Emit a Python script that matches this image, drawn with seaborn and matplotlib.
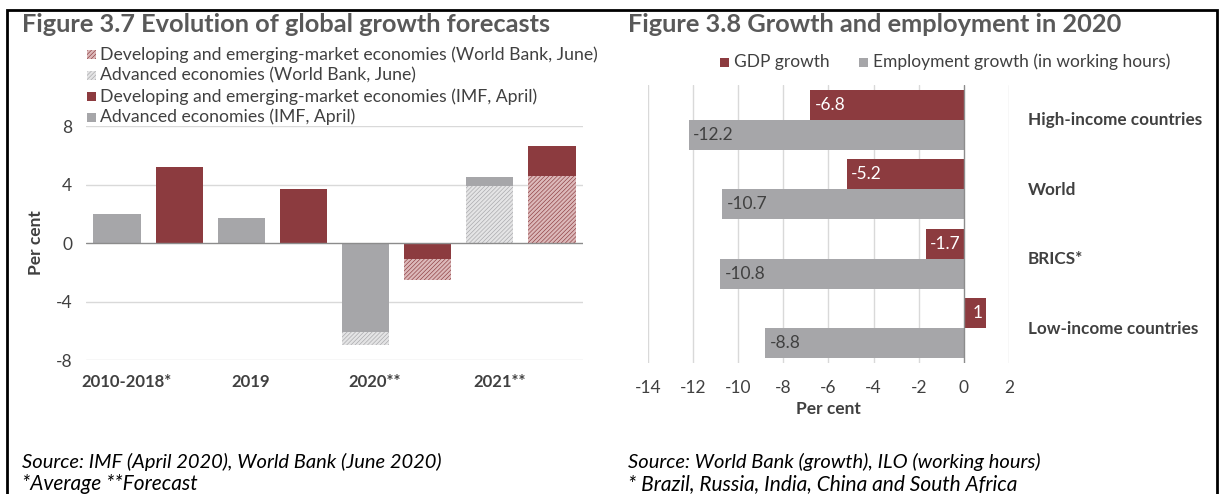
import numpy as np
import pandas as pd
import matplotlib
matplotlib.use("Agg")
import matplotlib.pyplot as plt
from matplotlib.patches import Rectangle
import seaborn as sns

sns.set_theme(style="white")
plt.rcParams['font.family'] = ['Lato', 'DejaVu Sans']
plt.rcParams['hatch.linewidth'] = 0.45

RED = '#8c3b3f'
GREY = '#a6a6a9'
RED_LT = '#dcb9ba'
GREY_LT = '#e4e4e5'
TXT = '#404040'
TITLE = '#595959'

# Figure 3.7 data
periods = ['2010-2018*', '2019', '2020**', '2021**']
adv_imf = [2.0, 1.7, -6.1, 4.5]
dev_imf = [5.2, 3.7, -1.1, 6.6]
adv_wb = [np.nan, np.nan, -7.0, 3.9]
dev_wb = [np.nan, np.nan, -2.5, 4.6]
legend_left = ['Developing and emerging-market economies (World Bank, June)',
               'Advanced economies (World Bank, June)',
               'Developing and emerging-market economies (IMF, April)',
               'Advanced economies (IMF, April)']

# Figure 3.8 data
regions = ['High-income countries', 'World', 'BRICS*', 'Low-income countries']
gdp_growth = [-6.8, -5.2, -1.7, 1.0]
emp_growth = [-12.2, -10.7, -10.8, -8.8]
series_names = ['GDP growth', 'Employment growth (in working hours)']

HATCH = '////////'
LIGHT = {RED: RED_LT, GREY: GREY_LT}

fig = plt.figure(figsize=(12.21, 4.94), dpi=100)

# ---------------- left panel ----------------
ax1 = fig.add_axes([86 / 1221, 1 - 360 / 494, (583 - 86) / 1221, (360 - 126) / 494])
adv_pos = np.arange(len(periods)) * 2.0
dev_pos = adv_pos + 1

def draw(pos, vals, color, hatched):
    mask = ~np.isnan(np.array(vals, dtype=float))
    x = np.array(pos)[mask]
    y = np.array(vals, dtype=float)[mask]
    n0 = len(ax1.patches)
    sns.barplot(x=x, y=y, color=color, native_scale=True, width=0.38,
                errorbar=None, saturation=1, ax=ax1)
    for p in ax1.patches[n0:]:
        p.set_linewidth(0)
        if hatched:
            p.set_facecolor(LIGHT[color])
            p.set_edgecolor(color)
            p.set_hatch(HATCH)
        # smaller bar sits in front of the larger one
        p.set_zorder(10 - abs(p.get_height()) / 2)

draw(adv_pos, adv_wb, GREY, True)
draw(dev_pos, dev_wb, RED, True)
draw(adv_pos, adv_imf, GREY, False)
draw(dev_pos, dev_imf, RED, False)

ax1.set_xlim(-0.5, 7.5)
ax1.set_ylim(-8, 8)
ax1.set_yticks([-8, -4, 0, 4, 8])
ax1.set_yticklabels(['-8', '-4', '0', '4', '8'], fontsize=12.5, color=TXT)
ax1.set_xticks(adv_pos + 0.15)
ax1.set_xticklabels(periods, fontsize=12, fontweight='bold', color=TXT)
ax1.tick_params(axis='both', length=0, pad=10)
for v in [-8, -4, 4, 8]:
    ax1.axhline(v, color='#d9d9d9', lw=1, zorder=0)
ax1.axhline(0, color='#8c8c8c', lw=1, zorder=11)
for s in ax1.spines.values():
    s.set_visible(False)
ax1.set_ylabel('Per cent', fontsize=12.5, fontweight='bold', color=TXT, labelpad=8)
ax1.set_xlabel('')

# legend of left panel
leg_cols = [(RED, True), (GREY, True), (RED, False), (GREY, False)]
for i, (lab, (c, h)) in enumerate(zip(legend_left, leg_cols)):
    y = 1 - (55 + i * 20.7) / 494
    if h:
        r = Rectangle((87 / 1221, y - 4.5 / 494), 9 / 1221, 9 / 494,
                      transform=fig.transFigure, facecolor=LIGHT[c], edgecolor=c,
                      hatch=HATCH, lw=0)
    else:
        r = Rectangle((87 / 1221, y - 4.5 / 494), 9 / 1221, 9 / 494,
                      transform=fig.transFigure, facecolor=c, lw=0)
    fig.patches.append(r)
    fig.text(100 / 1221, y, lab, fontsize=12.7, color=TXT, va='center', ha='left')

# ---------------- right panel ----------------
ax2 = fig.add_axes([648 / 1221, 1 - 363 / 494, (1009 - 648) / 1221, (363 - 85) / 494])
df = pd.DataFrame({
    'region': regions * 2,
    'value': gdp_growth + emp_growth,
    'series': [series_names[0]] * 4 + [series_names[1]] * 4,
})
sns.barplot(data=df, y='region', x='value', hue='series', orient='h',
            palette=[RED, GREY], width=0.86, gap=0, errorbar=None,
            saturation=1, legend=False, ax=ax2)
for p in ax2.patches:
    p.set_linewidth(0)
    p.set_zorder(3)

ax2.set_xlim(-14, 2)
ax2.set_ylim(3.5, -0.5)
ax2.set_xticks(range(-14, 3, 2))
ax2.set_xticklabels([str(t) for t in range(-14, 3, 2)], fontsize=12.5, color=TXT)
ax2.tick_params(axis='both', length=0, pad=12)
ax2.set_yticks([])
ax2.set_ylabel('')
for t in range(-14, 3, 2):
    ax2.axvline(t, color='#d9d9d9' if t != 0 else '#8c8c8c', lw=1,
                zorder=0 if t != 0 else 4)
for s in ax2.spines.values():
    s.set_visible(False)
ax2.set_xlabel('Per cent', fontsize=12.5, fontweight='bold', color=TXT, labelpad=4)

# value labels
for i, (g, e) in enumerate(zip(gdp_growth, emp_growth)):
    yg, ye = i - 0.215, i + 0.215
    if g < 0:
        ax2.text(g + 0.2, yg, f'{g:g}', color='white', fontsize=12.5, va='center', ha='left', zorder=5)
    else:
        ax2.text(g - 0.15, yg, f'{g:g}', color='white', fontsize=12.5, va='center', ha='right', zorder=5)
    ax2.text(e + 0.2, ye, f'{e:g}', color=TXT, fontsize=12.5, va='center', ha='left', zorder=5)
    ax2.text(1028 / 1221, 1 - (120 + i * 69.7) / 494, regions[i], transform=fig.transFigure,
             fontsize=12.3, fontweight='bold', color=TXT, va='center', ha='left')

# legend of right panel
for lab, c, x0 in zip(series_names, [RED, GREY], [720, 859]):
    fig.patches.append(Rectangle((x0 / 1221, 1 - 67 / 494), 9 / 1221, 9 / 494,
                                 transform=fig.transFigure, facecolor=c, lw=0))
    fig.text((x0 + 14) / 1221, 1 - 62 / 494, lab, fontsize=12.5, color=TXT, va='center', ha='left')

# titles and notes
fig.text(22 / 1221, 1 - 24 / 494, 'Figure 3.7 Evolution of global growth forecasts',
         fontsize=18.3, fontweight='bold', color=TITLE, va='center')
fig.text(628 / 1221, 1 - 24 / 494, 'Figure 3.8 Growth and employment in 2020',
         fontsize=18.3, fontweight='bold', color=TITLE, va='center')
fig.text(22 / 1221, 1 - 462 / 494, 'Source: IMF (April 2020), World Bank (June 2020)',
         fontsize=14.5, style='italic', color='black', va='center')
fig.text(22 / 1221, 1 - 484 / 494, '*Average **Forecast',
         fontsize=15, style='italic', color='black', va='center')
fig.text(628 / 1221, 1 - 462 / 494, 'Source: World Bank (growth), ILO (working hours)',
         fontsize=14.5, style='italic', color='black', va='center')
fig.text(628 / 1221, 1 - 484 / 494, '* Brazil, Russia, India, China and South Africa',
         fontsize=15, style='italic', color='black', va='center')

# outer frame
fig.patches.append(Rectangle((7 / 1221, -0.01), (1217 - 7) / 1221, 1 - 10 / 494 + 0.01,
                             transform=fig.transFigure, fill=False, edgecolor='black', lw=2))

fig.savefig('out.png', dpi=100)
